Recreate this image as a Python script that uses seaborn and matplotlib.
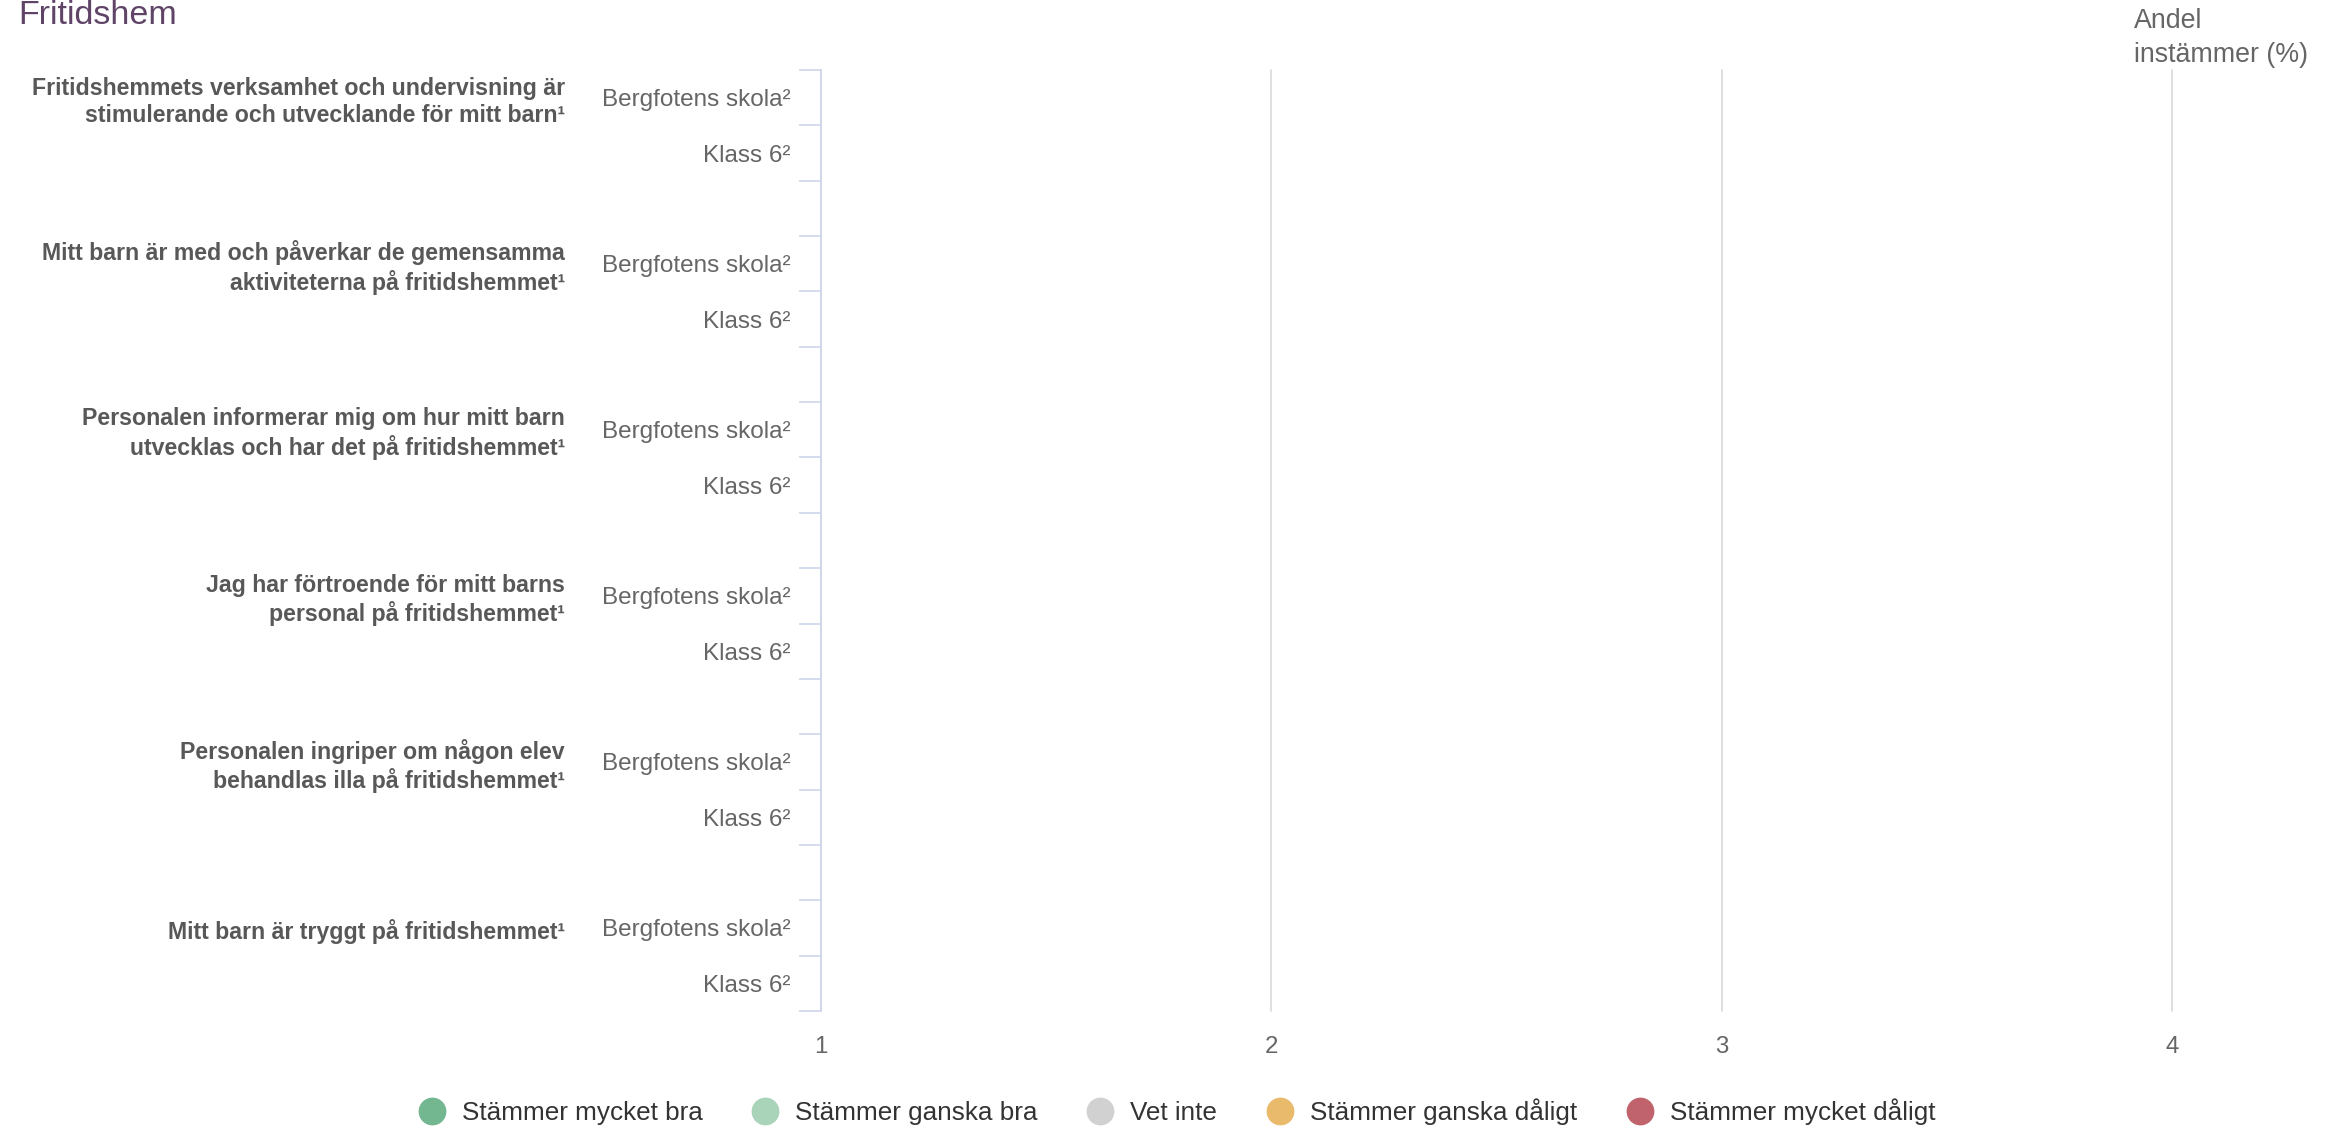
import numpy as np
import pandas as pd
import matplotlib
matplotlib.use("Agg")
import matplotlib.pyplot as plt
import matplotlib.transforms as mtransforms
from matplotlib.lines import Line2D
import seaborn as sns

# ---------------- data ----------------
title = "Fritidshem"
axis_title = "Andel\ninstämmer (%)"
questions = [
    "Fritidshemmets verksamhet och undervisning är\nstimulerande och utvecklande för mitt barn¹",
    "Mitt barn är med och påverkar de gemensamma\naktiviteterna på fritidshemmet¹",
    "Personalen informerar mig om hur mitt barn\nutvecklas och har det på fritidshemmet¹",
    "Jag har förtroende för mitt barns\npersonal på fritidshemmet¹",
    "Personalen ingriper om någon elev\nbehandlas illa på fritidshemmet¹",
    "Mitt barn är tryggt på fritidshemmet¹",
]
groups = ["Bergfotens skola²", "Klass 6²"]
responses = ["Stämmer mycket bra", "Stämmer ganska bra", "Vet inte",
             "Stämmer ganska dåligt", "Stämmer mycket dåligt"]
colors = ["#72b790", "#a9d4ba", "#d1d1d1", "#e9b96c", "#c1636c"]
x_ticks = [1, 2, 3, 4]

# values in order: q1 skola, q1 klass, q2 skola, q2 klass, ... (no data shown)
stammer_mycket_bra = [0, 0, 0, 0, 0, 0, 0, 0, 0, 0, 0, 0]
stammer_ganska_bra = [0, 0, 0, 0, 0, 0, 0, 0, 0, 0, 0, 0]
vet_inte = [0, 0, 0, 0, 0, 0, 0, 0, 0, 0, 0, 0]
stammer_ganska_daligt = [0, 0, 0, 0, 0, 0, 0, 0, 0, 0, 0, 0]
stammer_mycket_daligt = [0, 0, 0, 0, 0, 0, 0, 0, 0, 0, 0, 0]
series = [stammer_mycket_bra, stammer_ganska_bra, vet_inte,
          stammer_ganska_daligt, stammer_mycket_daligt]

# ---------------- build table ----------------
slots = []
slot_labels = []
rows = []
for qi, q in enumerate(questions):
    for gi, g in enumerate(groups):
        key = f"{qi}|{g}"
        slots.append(key)
        slot_labels.append(g)
        idx = qi * len(groups) + gi
        rec = {"slot": key}
        for r, s in zip(responses, series):
            rec[r] = s[idx]
        rows.append(rec)
    if qi < len(questions) - 1:
        slots.append(f"{qi}|gap")
        slot_labels.append("")
df = pd.DataFrame(rows)
cum = df[responses].cumsum(axis=1)

# ---------------- figure ----------------
sns.set_theme(style="white")
plt.rcParams["font.family"] = ["Liberation Sans", "DejaVu Sans"]

W, H = 2327, 1131
fig = plt.figure(figsize=(W / 100, H / 100), dpi=100)
ax = fig.add_axes([821 / W, 1 - 1011 / H, (2172 - 821) / W, (1011 - 70) / H])

for i in reversed(range(len(responses))):
    sns.barplot(x=cum[responses[i]], y=df["slot"], order=slots, orient="h",
                color=colors[i], ax=ax, errorbar=None, width=0.6)

ax.set_xlim(1, 4)
ax.set_ylim(len(slots) - 0.5, -0.5)
ax.set_xlabel("")
ax.set_ylabel("")

# x axis
ax.set_xticks(x_ticks)
ax.set_xticklabels([str(t) for t in x_ticks])
ax.tick_params(axis="x", length=0, pad=18, labelsize=17.3, labelcolor="#666666")
ax.xaxis.grid(True, color="#dcdcdc", linewidth=1.3)
for gl in ax.get_xgridlines():
    gl.set_clip_on(False)
ax.yaxis.grid(False)
ax.set_axisbelow(True)

# y axis: tick marks at boundaries, labels at centres
bounds = np.arange(-0.5, len(slots), 1.0)
ax.set_yticks(bounds)
ax.set_yticklabels([""] * len(bounds))
ax.tick_params(axis="y", which="major", length=15.8, width=1.2,
               color="#ccd6eb", direction="out", left=True)
label_pos = [i for i, l in enumerate(slot_labels) if l]
ax.set_yticks(label_pos, minor=True)
ax.set_yticklabels([slot_labels[i] for i in label_pos], minor=True)
ax.tick_params(axis="y", which="minor", length=0, pad=22, labelsize=17.5,
               labelcolor="#666666", left=True)

for name, sp in ax.spines.items():
    sp.set_visible(name == "left")
ax.spines["left"].set_color("#ccd6eb")
ax.spines["left"].set_linewidth(1.2)

# question labels
trans = mtransforms.blended_transform_factory(fig.transFigure, ax.transData)
for qi, q in enumerate(questions):
    ax.text(565 / W, qi * 3 + 0.07, q, transform=trans, ha="right", va="center",
            fontsize=16.65, fontweight="bold", color="#585858", linespacing=1.22)

# titles
fig.text(18 / W, 1 - 24 / H, title, fontsize=24.5, color="#5f4468",
         ha="left", va="baseline")
fig.text(2134 / W, 1 - 38 / H, axis_title, fontsize=19.3, color="#666666",
         ha="left", va="center", linespacing=1.35)

# legend
handles = [Line2D([0], [0], marker="o", linestyle="none", markersize=19,
                  markerfacecolor=c, markeredgecolor=c) for c in colors]
fig.legend(handles, responses, loc="center", ncol=5, frameon=False,
           bbox_to_anchor=(1177 / W, 1 - 1112 / H), fontsize=18.8,
           handlelength=1.0, handletextpad=0.65, columnspacing=1.9,
           labelcolor="#333333")

fig.savefig("out.png", dpi=100)
